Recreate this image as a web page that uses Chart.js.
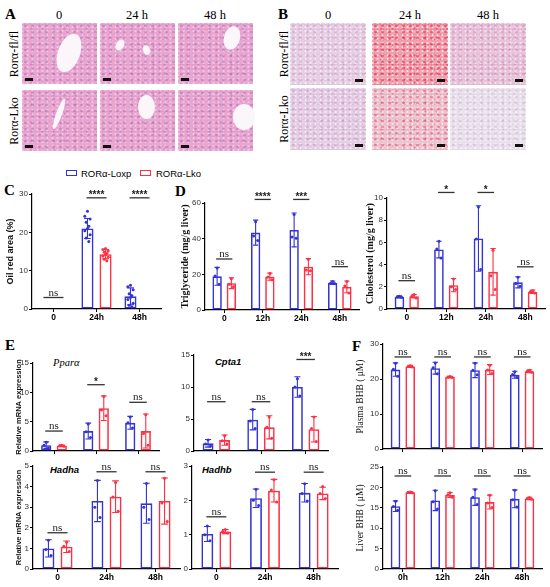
<!DOCTYPE html>
<html><head><meta charset="utf-8">
<script src="https://cdn.jsdelivr.net/npm/chart.js@4.4.1/dist/chart.umd.min.js"></script>
<style>
body{margin:0;width:550px;height:587px;position:relative;background:#fff;overflow:hidden;font-family:"Liberation Sans",Arial,sans-serif;}
.letter{position:absolute;font-family:"Liberation Serif","Times New Roman",serif;font-weight:bold;font-size:15px;line-height:16px;}
.hdr{position:absolute;font-family:"Liberation Serif",serif;font-size:12.5px;transform:translate(-50%,-50%);white-space:nowrap;}
.rot{position:absolute;font-family:"Liberation Serif",serif;font-size:12px;transform:translate(-50%,-50%) rotate(-90deg);white-space:nowrap;}
.tile{position:absolute;overflow:hidden;}
.blob{position:absolute;background:#fbf6fa;border-radius:50%;}
.sbar{position:absolute;background:#111;width:8px;height:3px;}
.gene{position:absolute;transform:translateY(-50%);white-space:nowrap;}
.leg{position:absolute;font-size:9.5px;white-space:nowrap;transform:translateY(-50%);}
.legbox{position:absolute;width:9px;height:4px;border:1.5px solid;}
canvas{position:absolute;}
</style></head><body>
<script>
// ---------------- DATA ----------------
const colLabels = ['0', '24 h', '48 h'];
const rowLabels = ['Rorα-fl/fl', 'Rorα-Lko'];
const seriesNames = ['RORα-Loxp', 'RORα-Lko'];

// C: Oil red area
const cCats = ['0', '24h', '48h'];
const cLoxpMean = [0.15, 21, 3.3];
const cLoxpSD = [0, 2.6, 2.2];
const cLkoMean = [0.15, 14.3, 0.15];
const cLkoSD = [0, 1.2, 0];
const cLoxpPts = [[], [25.5, 24.2, 23.5, 22.6, 21.6, 21, 20.4, 19.4, 18.5, 17.6], [6.2, 5.8, 5, 4, 3.5, 3, 2.5, 1.5, 1, 0.6]];
const cLkoPts = [[], [15.8, 15.5, 15.1, 14.8, 14.5, 14.2, 13.8, 13.5, 13, 12.6], []];
const cSigLabels = ['ns', '****', '****'];
const cSigY = [3, 29, 29];

// D: Triglyceride
const dCats = ['0', '12h', '24h', '48h'];
const tgLoxpMean = [18.9, 43.4, 44.9, 15.3];
const tgLoxpSD = [5, 7, 9.5, 1];
const tgLkoMean = [15, 18.7, 24.3, 13];
const tgLkoSD = [3, 2, 4.5, 3.3];
const tgLoxpPts = [[23.5, 19, 14.5], [49.5, 41.5, 39], [53.5, 41, 40.2], [16, 15, 14.9]];
const tgLkoPts = [[17.5, 14.5, 13], [20.5, 18.5, 17], [28.5, 22.5, 22], [16, 13.5, 9.5]];
const tgSigLabels = ['ns', '****', '***', 'ns'];
const tgSigY = [28.6, 62, 62, 24.3];

// D: Cholesterol
const chLoxpMean = [1.1, 5.36, 6.35, 2.4];
const chLoxpSD = [0.08, 0.75, 2.95, 0.5];
const chLkoMean = [1.15, 2.15, 3.35, 1.55];
const chLkoSD = [0.15, 0.6, 2.1, 0.15];
const chLoxpPts = [[1.15, 1.1, 1.05], [6.1, 5.4, 4.6], [9.2, 6.3, 3.55], [2.85, 2.3, 2.05]];
const chLkoPts = [[1.3, 1.15, 1.0], [2.7, 2.0, 1.75], [5.3, 3.0, 1.75], [1.65, 1.55, 1.45]];
const chSigLabels = ['ns', '*', '*', 'ns'];
const chSigY = [2.55, 10.5, 10.5, 3.8];

// E: relative mRNA expression
const eCats = ['0', '24h', '48h'];
const ppLoxpMean = [1.0, 3.4, 4.8];
const ppLoxpSD = [0.55, 1.35, 1.1];
const ppLkoMean = [0.9, 7.3, 3.4];
const ppLkoSD = [0.1, 2.1, 2.9];
const ppLoxpPts = [[1.5, 1.0, 0.5], [4.6, 3.3, 2.3], [5.8, 4.8, 3.9]];
const ppLkoPts = [[1.0, 0.9, 0.8], [9.3, 7.0, 6.0], [6.2, 3.0, 1.0]];
const ppSigLabels = ['ns', '*', 'ns'];
const ppSigY = [3.4, 11.3, 8.3];

const cpLoxpMean = [1.2, 4.9, 10.0];
const cpLoxpSD = [0.6, 1.6, 1.6];
const cpLkoMean = [1.7, 3.7, 3.4];
const cpLkoSD = [0.8, 1.8, 2.0];
const cpLoxpPts = [[1.7, 1.1, 0.8], [6.5, 4.7, 3.5], [11.3, 10.0, 8.6]];
const cpLkoPts = [[2.4, 1.6, 1.1], [5.3, 3.7, 2.0], [5.3, 3.5, 1.5]];
const cpSigLabels = ['ns', 'ns', '***'];
const cpSigY = [7.7, 7.7, 14.3];

const haLoxpMean = [1.0, 3.3, 3.19];
const haLoxpSD = [0.42, 1.0, 0.97];
const haLkoMean = [1.08, 3.51, 3.3];
const haLkoSD = [0.28, 0.77, 1.12];
const haLoxpPts = [[1.4, 0.95, 0.65], [4.3, 3.0, 2.5], [4.15, 3.0, 2.4]];
const haLkoPts = [[1.3, 1.1, 0.85], [4.2, 3.5, 2.8], [4.4, 3.2, 2.3]];
const haSigLabels = ['ns', 'ns', 'ns'];
const haSigY = [1.76, 4.72, 4.72];

const hbLoxpMean = [1.02, 2.06, 2.22];
const hbLoxpSD = [0.22, 0.27, 0.27];
const hbLkoMean = [1.09, 2.28, 2.2];
const hbLkoSD = [0.06, 0.33, 0.18];
const hbLoxpPts = [[1.25, 1.0, 0.82], [2.32, 2.0, 1.85], [2.48, 2.2, 1.98]];
const hbLkoPts = [[1.15, 1.1, 1.05], [2.6, 2.3, 1.95], [2.4, 2.2, 2.05]];
const hbSigLabels = ['ns', 'ns', 'ns'];
const hbSigY = [1.52, 2.82, 2.82];

// F: BHB
const fCats = ['0h', '12h', '24h', '48h'];
const plLoxpMean = [22.7, 23.1, 22.5, 21.2];
const plLoxpSD = [1.9, 1.7, 2.1, 1.0];
const plLkoMean = [23.6, 20.6, 22.7, 22.2];
const plLkoSD = [0.3, 0.2, 1.4, 0.4];
const plLoxpPts = [[24.5, 22.8, 20.8], [24.6, 23.2, 21.5], [24.5, 22.5, 21.2], [22.1, 21.3, 20.4]];
const plLkoPts = [[23.8, 23.6, 23.4], [20.7, 20.6, 20.5], [23.9, 22.6, 21.6], [22.5, 22.2, 21.9]];
const plSigLabels = ['ns', 'ns', 'ns', 'ns'];
const plSigY = [26.3, 26.3, 26.3, 26.3];

const lvLoxpMean = [15.4, 16.8, 17.6, 17.2];
const lvLoxpSD = [1.3, 2.5, 2.0, 2.2];
const lvLkoMean = [18.8, 18.15, 16.4, 17.3];
const lvLkoSD = [0.15, 0.6, 1.7, 0.3];
const lvLoxpPts = [[16.6, 15.3, 14.4], [19.2, 16.5, 14.7], [19.4, 17.6, 15.8], [19.3, 17, 15.2]];
const lvLkoPts = [[18.9, 18.8, 18.7], [18.7, 18.2, 17.6], [18.1, 16.2, 15.1], [17.5, 17.3, 17.1]];
const lvSigLabels = ['ns', 'ns', 'ns', 'ns'];
const lvSigY = [22.8, 22.8, 22.8, 22.8];

// ---------------- STYLE / LAYOUT ----------------
const BLUE = '#3434d6';
const RED = '#ff3044';
const SANS = '"Liberation Sans", Arial, sans-serif';
const SERIF = '"Liberation Serif", "Times New Roman", serif';
Chart.defaults.font.family = SANS;

function el(tag, cls, style, text) {
  const e = document.createElement(tag);
  if (cls) e.className = cls;
  Object.assign(e.style, style || {});
  if (text !== undefined) e.textContent = text;
  document.body.appendChild(e);
  return e;
}

// panel letters
[['A', 5, 6], ['B', 278, 6], ['C', 4, 182], ['D', 175, 183], ['E', 5, 337], ['F', 352, 338]].forEach(([t, x, y]) =>
  el('div', 'letter', { left: x + 'px', top: y + 'px' }, t));

// histology tiles (decorative texture)
const tex = (c1, c2, c3, base) =>
  `radial-gradient(circle, ${c1} 0 1px, transparent 1.6px) 0 0/7px 6px, ` +
  `radial-gradient(circle, ${c2} 0 0.8px, transparent 1.3px) 3px 2px/5px 4px, ` +
  `radial-gradient(circle, ${c3} 0 0.7px, transparent 1.2px) 1px 4px/3px 5px, ` +
  `radial-gradient(circle, ${c1} 0 0.8px, transparent 1.3px) 4px 1px/11px 9px, ${base}`;
const aX = [22, 100, 178], aY = [23, 90];
const bX = [290, 372, 450], bY = [23, 88];
colLabels.forEach((c, i) => {
  el('div', 'hdr', { left: (aX[i] + 37) + 'px', top: '15px' }, c);
  el('div', 'hdr', { left: (bX[i] + 38) + 'px', top: '15px' }, c);
});
rowLabels.forEach((r, j) => {
  el('div', 'rot', { left: '14px', top: (aY[j] + 31) + 'px' }, r);
  el('div', 'rot', { left: '284px', top: (bY[j] + 31) + 'px' }, r);
});
const aTex = tex('rgba(140,90,180,.38)', 'rgba(255,240,250,.45)', 'rgba(215,100,170,.3)', '#e9a7d0');
const bTex = [
  [tex('rgba(200,100,170,.3)', 'rgba(255,255,255,.6)', 'rgba(190,120,185,.25)', '#e6d1e4'),
   tex('rgba(228,30,60,.55)', 'rgba(255,255,255,.65)', 'rgba(235,60,90,.45)', '#eea3b1'),
   tex('rgba(205,90,160,.35)', 'rgba(255,255,255,.55)', 'rgba(200,110,170,.3)', '#e7c6dc')],
  [tex('rgba(195,100,170,.3)', 'rgba(255,255,255,.6)', 'rgba(185,120,180,.25)', '#e4d0e4'),
   tex('rgba(228,50,80,.45)', 'rgba(255,255,255,.6)', 'rgba(220,90,130,.3)', '#ecc5d1'),
   tex('rgba(185,130,185,.25)', 'rgba(255,255,255,.6)', 'rgba(195,150,195,.2)', '#e9e1ec')]
];
aY.forEach((y) => aX.forEach((x) => {
  el('div', 'tile', { left: x + 'px', top: y + 'px', width: '75px', height: '61px', background: aTex });
  el('div', 'sbar', { left: (x + 3) + 'px', top: (y + 55) + 'px' });
}));
bY.forEach((y, j) => bX.forEach((x, i) => {
  el('div', 'tile', { left: x + 'px', top: y + 'px', width: '76px', height: '62px', background: bTex[j][i] });
  el('div', 'sbar', { left: (x + 65) + 'px', top: (y + 56) + 'px' });
}));
// vessels in H&E
[[58, 33, 22, 40, 20], [116, 39, 8, 12, 30], [143, 45, 7, 10, -20], [224, 26, 16, 24, 15], [56, 98, 6, 32, 20], [138, 95, 17, 24, 0], [233, 104, 22, 26, 0]].forEach(([x, y, w, h, r]) =>
  el('div', 'blob', { left: x + 'px', top: y + 'px', width: w + 'px', height: h + 'px', transform: `rotate(${r}deg)` }));

// legend
el('div', 'legbox', { left: '66px', top: '170px', borderColor: BLUE });
el('div', 'leg', { left: '81px', top: '173px' }, seriesNames[0]);
el('div', 'leg', { left: '156px', top: '173px' }, seriesNames[1]);
el('div', 'legbox', { left: '140px', top: '170px', borderColor: RED });

// gene labels
el('div', 'gene', { left: '53px', top: '362px', font: 'italic 10.5px ' + SERIF }, 'Pparα');
el('div', 'gene', { left: '215px', top: '361px', font: 'italic bold 9.5px ' + SANS }, 'Cpta1');
el('div', 'gene', { left: '50px', top: '469px', font: 'italic bold 9.5px ' + SANS }, 'Hadha');
el('div', 'gene', { left: '202px', top: '469px', font: 'italic bold 9.5px ' + SANS }, 'Hadhb');

// ---------------- CHARTS ----------------
function jitter(k) { return [0, -0.22, 0.22, -0.11, 0.11][k % 5]; }

function extrasPlugin(sigLabels, sigY) {
  return {
    id: 'extras',
    afterDatasetsDraw(chart) {
      const ctx = chart.ctx, ys = chart.scales.y;
      chart.data.datasets.forEach((ds, di) => {
        const meta = chart.getDatasetMeta(di);
        meta.data.forEach((bar, i) => {
          const m = ds.data[i], sd = ds.sd[i], x = bar.x;
          ctx.save();
          ctx.strokeStyle = ds.borderColor; ctx.fillStyle = ds.borderColor; ctx.lineWidth = 1.1;
          if (sd > 0) {
            const yt = ys.getPixelForValue(m + sd), yb = ys.getPixelForValue(Math.max(0, m - sd));
            const cw = bar.width * 0.28;
            ctx.beginPath();
            ctx.moveTo(x, yt); ctx.lineTo(x, yb);
            ctx.moveTo(x - cw, yt); ctx.lineTo(x + cw, yt);
            ctx.moveTo(x - cw, yb); ctx.lineTo(x + cw, yb);
            ctx.stroke();
          }
          (ds.pts[i] || []).forEach((v, k) => {
            ctx.beginPath();
            ctx.arc(x + jitter(k) * bar.width, ys.getPixelForValue(v), 1.5, 0, Math.PI * 2);
            ctx.fill();
          });
          ctx.restore();
        });
      });
      const m0 = chart.getDatasetMeta(0), m1 = chart.getDatasetMeta(1);
      sigLabels.forEach((lab, i) => {
        const x0 = m0.data[i].x, x1 = m1.data[i].x, yy = ys.getPixelForValue(sigY[i]);
        ctx.save();
        ctx.strokeStyle = '#333'; ctx.lineWidth = 1.3;
        ctx.beginPath(); ctx.moveTo(x0 - 1, yy); ctx.lineTo(x1 + 1, yy); ctx.stroke();
        ctx.fillStyle = '#222'; ctx.textAlign = 'center'; ctx.textBaseline = 'alphabetic';
        if (lab === 'ns') { ctx.font = '11px ' + SERIF; ctx.fillText(lab, (x0 + x1) / 2, yy - 2); }
        else { ctx.font = 'bold 10px ' + SANS; ctx.fillText(lab, (x0 + x1) / 2, yy + 0.5); }
        ctx.restore();
      });
    }
  };
}

function makeChart(b, cats, lox, lko, sig, y) {
  const cv = document.createElement('canvas');
  cv.width = b.W; cv.height = b.H;
  cv.style.left = b.L + 'px'; cv.style.top = b.T + 'px';
  cv.style.width = b.W + 'px'; cv.style.height = b.H + 'px';
  document.body.appendChild(cv);
  new Chart(cv, {
    type: 'bar',
    data: {
      labels: cats,
      datasets: [
        { label: seriesNames[0], data: lox[0], sd: lox[1], pts: lox[2], backgroundColor: 'rgba(255,255,255,0)', borderColor: BLUE, borderWidth: 1.6, borderSkipped: false },
        { label: seriesNames[1], data: lko[0], sd: lko[1], pts: lko[2], backgroundColor: 'rgba(255,255,255,0)', borderColor: RED, borderWidth: 1.6, borderSkipped: false }
      ]
    },
    options: {
      responsive: false, animation: false,
      categoryPercentage: b.cp || 0.74, barPercentage: b.bp || 0.66,
      layout: { padding: { left: 0, top: b.pt, right: b.pr || 2, bottom: 0 } },
      plugins: { legend: { display: false }, tooltip: { enabled: false } },
      scales: {
        x: {
          offset: true,
          grid: { display: true, drawOnChartArea: false, drawTicks: true, tickLength: 3, offset: false, color: '#000', lineWidth: 1 },
          border: { display: true, color: '#000', width: 1.2 },
          ticks: { display: b.xl, color: '#000', padding: 1, maxRotation: 0, autoSkip: false, font: { weight: 'bold', size: 8.5 } },
          afterFit(s) { s.height = b.xH; }
        },
        y: {
          min: 0, max: y.max,
          ticks: { stepSize: y.step, color: '#333', padding: 1, font: { size: 8 } },
          grid: { display: true, drawOnChartArea: false, drawTicks: true, tickLength: 3, color: '#000' },
          border: { display: true, color: '#000', width: 1.2 },
          title: { display: !!y.title, text: y.title || '', padding: 0, color: '#111', font: y.tf || { size: 9 } },
          afterFit(s) { s.width = b.yW; }
        }
      }
    },
    plugins: [extrasPlugin(sig[0], sig[1])]
  });
}

// C
makeChart({ L: 5, T: 180, W: 158, H: 145, yW: 27, xH: 16, pt: 14, xl: true, cp: 0.84, bp: 0.67 }, cCats,
  [cLoxpMean, cLoxpSD, cLoxpPts], [cLkoMean, cLkoSD, cLkoPts], [cSigLabels, cSigY],
  { max: 30, step: 10, title: 'Oil red area (%)', tf: { size: 9, weight: 'bold', family: SANS } });
// D triglyceride
makeChart({ L: 179, T: 180, W: 182, H: 146, yW: 26, xH: 16, pt: 23, xl: true }, dCats,
  [tgLoxpMean, tgLoxpSD, tgLoxpPts], [tgLkoMean, tgLkoSD, tgLkoPts], [tgSigLabels, tgSigY],
  { max: 60, step: 20, title: 'Triglyceride (mg/g liver)', tf: { size: 10, weight: 'bold', family: SERIF } });
// D cholesterol
makeChart({ L: 364, T: 180, W: 184, H: 145, yW: 23, xH: 16, pt: 18, xl: true, pr: 3 }, dCats,
  [chLoxpMean, chLoxpSD, chLoxpPts], [chLkoMean, chLkoSD, chLkoPts], [chSigLabels, chSigY],
  { max: 10, step: 2, title: 'Cholesterol (mg/g liver)', tf: { size: 10, weight: 'bold', family: SERIF } });
// E Ppara
makeChart({ L: 14, T: 345, W: 147, H: 112, yW: 19, xH: 6, pt: 18, xl: false }, eCats,
  [ppLoxpMean, ppLoxpSD, ppLoxpPts], [ppLkoMean, ppLkoSD, ppLkoPts], [ppSigLabels, ppSigY],
  { max: 15, step: 5, title: 'Relative mRNA expression', tf: { size: 7.5, weight: 'bold', family: SANS } });
// E Cpta1
makeChart({ L: 180, T: 340, W: 150, H: 117, yW: 14, xH: 6, pt: 15, xl: false }, eCats,
  [cpLoxpMean, cpLoxpSD, cpLoxpPts], [cpLkoMean, cpLkoSD, cpLkoPts], [cpSigLabels, cpSigY],
  { max: 15, step: 5 });
// E Hadha
makeChart({ L: 14, T: 455, W: 168, H: 130, yW: 19, xH: 16, pt: 11, xl: true }, eCats,
  [haLoxpMean, haLoxpSD, haLoxpPts], [haLkoMean, haLkoSD, haLkoPts], [haSigLabels, haSigY],
  { max: 5, step: 1, title: 'Relative mRNA expression', tf: { size: 7.5, weight: 'bold', family: SANS } });
// E Hadhb
makeChart({ L: 180, T: 455, W: 160, H: 130, yW: 12, xH: 16, pt: 11, xl: true }, eCats,
  [hbLoxpMean, hbLoxpSD, hbLoxpPts], [hbLkoMean, hbLkoSD, hbLkoPts], [hbSigLabels, hbSigY],
  { max: 3, step: 1 });
// F plasma
makeChart({ L: 355, T: 335, W: 190, H: 120, yW: 28, xH: 6, pt: 9, xl: false, pr: 3 }, fCats,
  [plLoxpMean, plLoxpSD, plLoxpPts], [plLkoMean, plLkoSD, plLkoPts], [plSigLabels, plSigY],
  { max: 30, step: 10, title: 'Plasma BHB ( μM)', tf: { size: 9.5, family: SERIF } });
// F liver
makeChart({ L: 355, T: 455, W: 190, H: 130, yW: 28, xH: 16, pt: 12, xl: true, pr: 3 }, fCats,
  [lvLoxpMean, lvLoxpSD, lvLoxpPts], [lvLkoMean, lvLkoSD, lvLkoPts], [lvSigLabels, lvSigY],
  { max: 25, step: 5, title: 'Liver BHB ( μM)', tf: { size: 9.5, family: SERIF } });
</script>
</body></html>
